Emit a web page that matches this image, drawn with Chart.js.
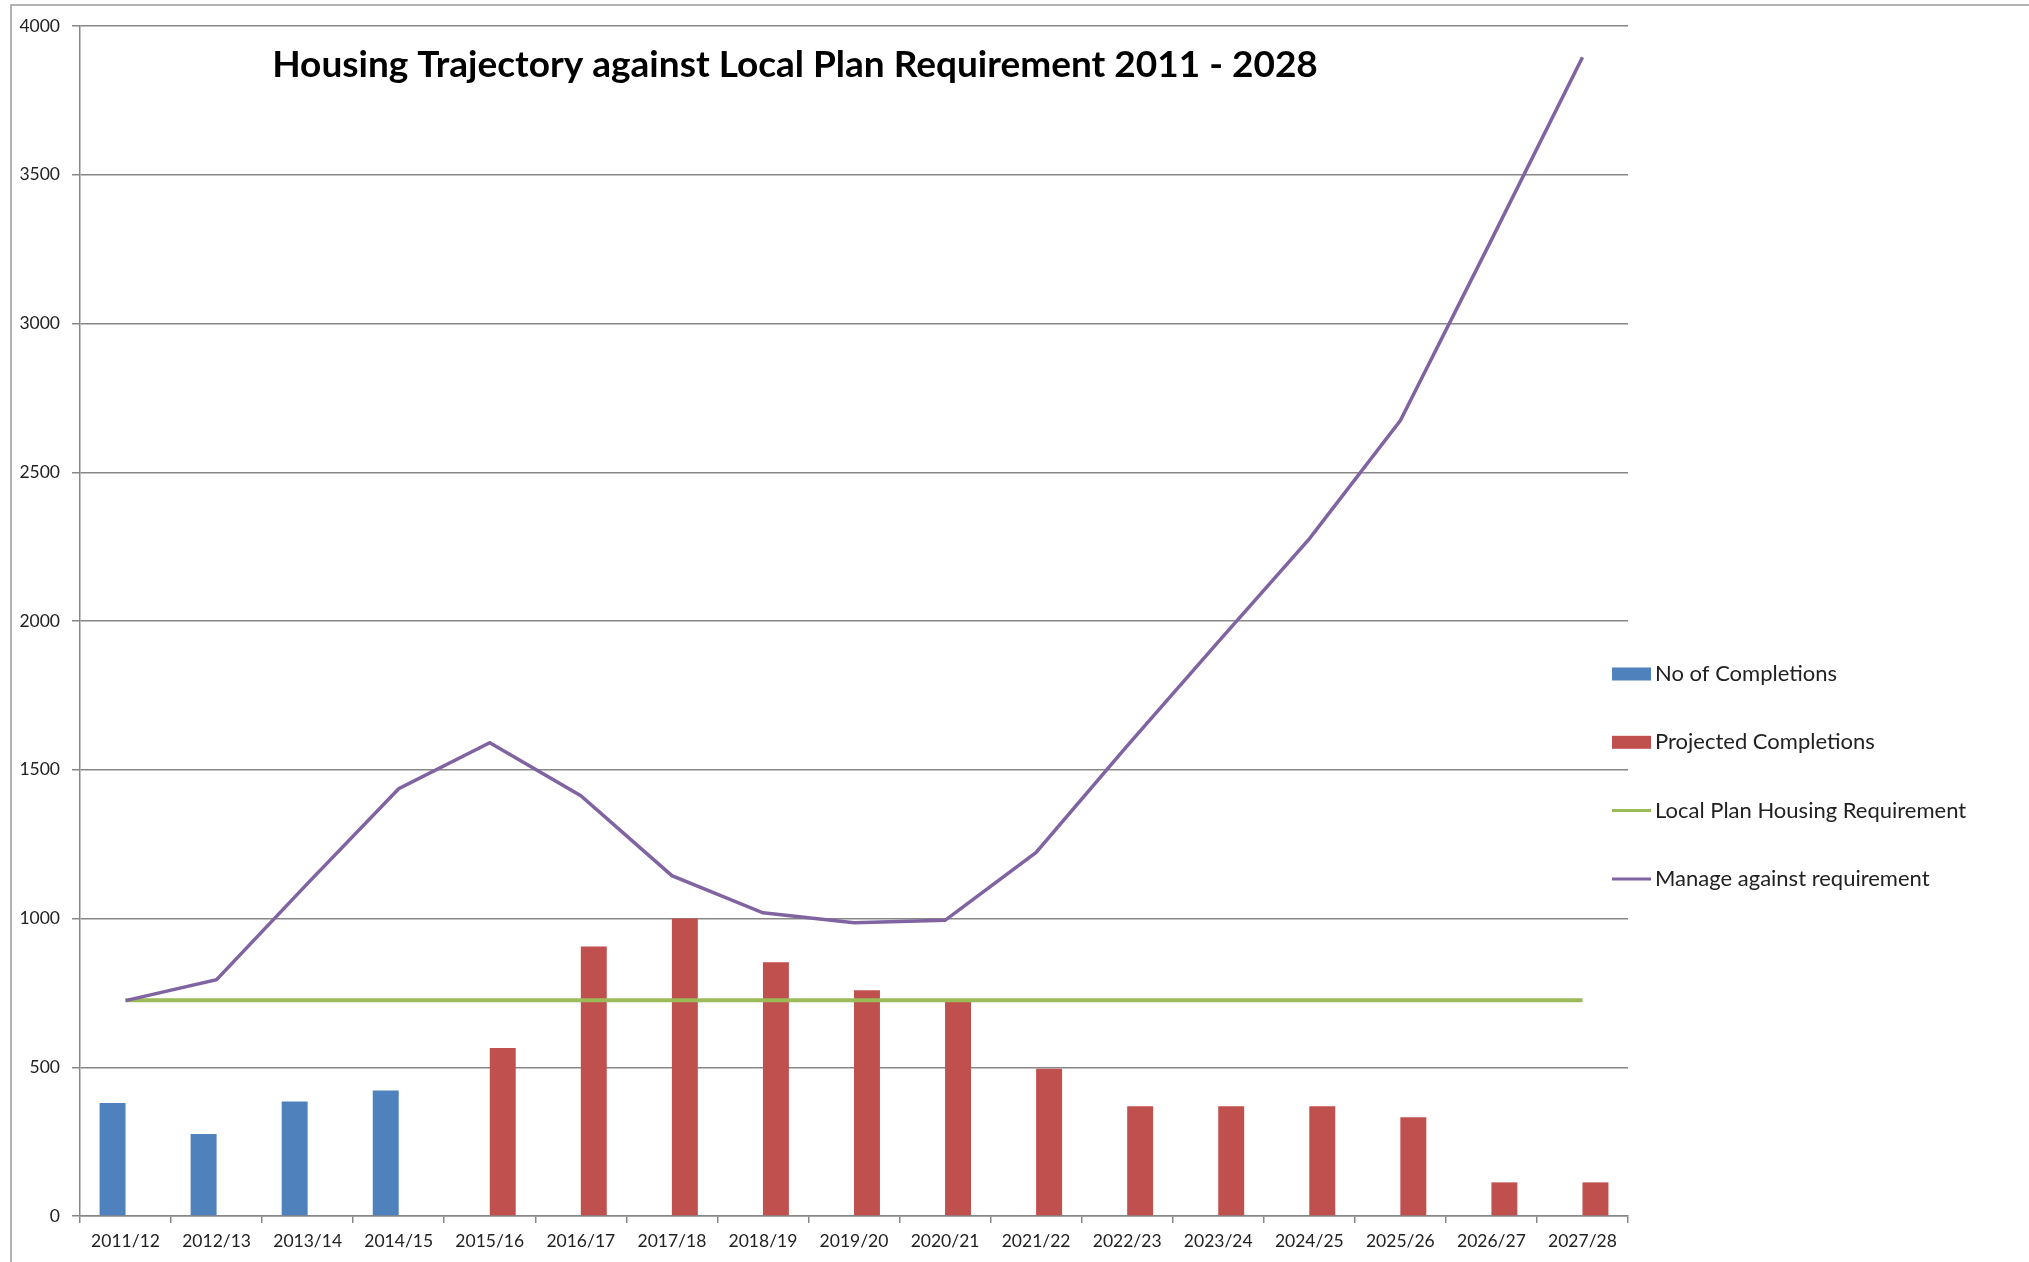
<!DOCTYPE html>
<html>
<head>
<meta charset="utf-8">
<title>Housing Trajectory against Local Plan Requirement 2011 - 2028</title>
<script src="https://cdn.jsdelivr.net/npm/chart.js@4.4.1/dist/chart.umd.min.js"></script>
<style>
  html, body { margin: 0; padding: 0; background: #fff; }
  #housing-chart { display: block; }
</style>
</head>
<body>
<canvas id="housing-chart" width="2029" height="1262"></canvas>
<script>
var canvasElement = document.getElementById("housing-chart");

var chartTitle = "Housing Trajectory against Local Plan Requirement 2011 - 2028";

// financial years along the x axis
var yearLabels = ["2011/12", "2012/13", "2013/14", "2014/15", "2015/16", "2016/17",
    "2017/18", "2018/19", "2019/20", "2020/21", "2021/22", "2022/23", "2023/24",
    "2024/25", "2025/26", "2026/27", "2027/28"];

// series values
var completionsData = [380, 276, 385, 422, null, null, null, null, null, null, null, null, null, null, null, null, null];
var projectedData = [null, null, null, null, 565, 906, 1000, 853, 759, 722, 495, 369, 369, 369, 332, 113, 113];
var requirementData = [725, 725, 725, 725, 725, 725, 725, 725, 725, 725, 725, 725, 725, 725, 725, 725, 725];
var manageData = [724, 794, 1118, 1436, 1591, 1413, 1144, 1019, 986, 994, 1222, 1580, 1930, 2276, 2674, 3281, 3895];

// y axis tick labels
var yTickValues = [0, 500, 1000, 1500, 2000, 2500, 3000, 3500, 4000];

var seriesNames = ["No of Completions", "Projected Completions",
    "Local Plan Housing Requirement", "Manage against requirement"];

var gridColour = "#878787";
var textColour = "#222222";

Chart.defaults.font.family = "Lato, 'Open Sans', sans-serif";
Chart.defaults.color = textColour;

// frame, title and legend the way the spreadsheet drew them
var decorPlugin = {
    id: "decor",
    beforeDraw: function (chart) {
        var ctx = chart.ctx;
        ctx.save();
        ctx.fillStyle = "#ffffff";
        ctx.fillRect(0, 0, chart.width, chart.height);
        ctx.strokeStyle = "#9a9a9a";
        ctx.lineWidth = 1.5;
        ctx.beginPath();
        ctx.moveTo(11, chart.height);
        ctx.lineTo(11, 5);
        ctx.lineTo(chart.width, 5);
        ctx.stroke();
        ctx.restore();
    },
    afterDraw: function (chart) {
        var ctx = chart.ctx;
        ctx.save();
        // title sits inside the plot
        ctx.fillStyle = "#000000";
        ctx.font = "bold 37px Lato, 'Open Sans', sans-serif";
        ctx.textAlign = "center";
        ctx.textBaseline = "alphabetic";
        ctx.fillText(chartTitle, 795, 77);

        // legend, one row per dataset
        ctx.font = "22px Lato, 'Open Sans', sans-serif";
        ctx.textAlign = "left";
        ctx.textBaseline = "middle";
        chart.data.datasets.forEach(function (ds, i) {
            var y = 674 + i * 68.3;
            if (ds.type === "line") {
                ctx.strokeStyle = ds.borderColor;
                ctx.lineWidth = 3;
                ctx.beginPath();
                ctx.moveTo(1612, y);
                ctx.lineTo(1651, y);
                ctx.stroke();
            } else {
                ctx.fillStyle = ds.backgroundColor;
                ctx.fillRect(1612, y - 6.5, 39, 13);
            }
            ctx.fillStyle = textColour;
            ctx.fillText(ds.label, 1655, y);
        });
        ctx.restore();
    }
};

var config = {
    data: {
        labels: yearLabels,
        datasets: [{
            type: "bar",
            label: seriesNames[0],
            data: completionsData,
            backgroundColor: "#4F81BD",
            order: 2
        }, {
            type: "bar",
            label: seriesNames[1],
            data: projectedData,
            backgroundColor: "#C0504D",
            order: 2
        }, {
            type: "line",
            label: seriesNames[2],
            data: requirementData,
            borderColor: "#9BBB59",
            borderWidth: 4,
            pointRadius: 0,
            tension: 0,
            order: 1
        }, {
            type: "line",
            label: seriesNames[3],
            data: manageData,
            borderColor: "#8064A2",
            borderWidth: 3.5,
            pointRadius: 0,
            tension: 0,
            order: 0
        }]
    },
    options: {
        responsive: false,
        animation: false,
        devicePixelRatio: 1,
        layout: {
            padding: { left: 0, top: 26, right: 401, bottom: 0 }
        },
        datasets: {
            bar: { categoryPercentage: 0.57, barPercentage: 1.0 }
        },
        plugins: {
            legend: { display: false },
            title: { display: false },
            tooltip: { enabled: false }
        },
        scales: {
            x: {
                afterFit: function (axis) { axis.height = 46; },
                grid: {
                    display: true,
                    drawOnChartArea: false,
                    drawTicks: true,
                    tickLength: 7,
                    color: gridColour,
                    lineWidth: 1.5,
                    offset: true
                },
                border: { display: true, color: gridColour, width: 1.5 },
                ticks: {
                    padding: 8,
                    maxRotation: 0,
                    autoSkip: false,
                    font: { size: 17.5 },
                    color: textColour
                }
            },
            y: {
                min: 0,
                max: 4000,
                afterFit: function (axis) { axis.width = 80; },
                afterBuildTicks: function (axis) {
                    axis.ticks = yTickValues.map(function (v) { return { value: v }; });
                },
                grid: {
                    color: gridColour,
                    lineWidth: 1.5,
                    tickLength: 8,
                    drawTicks: true
                },
                border: { display: true, color: gridColour, width: 1.5 },
                ticks: {
                    padding: 12,
                    font: { size: 17.5 },
                    color: textColour,
                    callback: function (value) { return String(value); }
                }
            }
        }
    },
    plugins: [decorPlugin]
};

var housingChart = new Chart(canvasElement, config);
</script>
</body>
</html>
